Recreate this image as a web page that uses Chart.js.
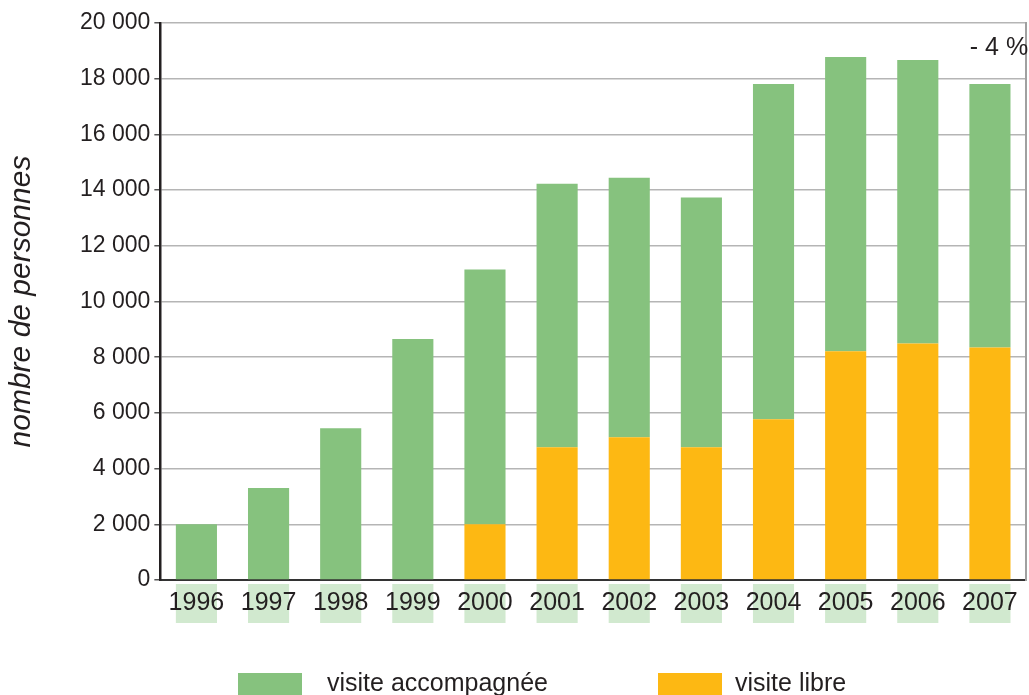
<!DOCTYPE html>
<html>
<head>
<meta charset="utf-8">
<script src="https://cdn.jsdelivr.net/npm/chart.js@4"></script>
<style>
  html, body { margin: 0; padding: 0; background: #ffffff; }
  #wrap { width: 1029px; height: 695px; }
</style>
</head>
<body>
<div id="wrap"><canvas id="chart" width="1029" height="695"></canvas></div>
<script>
const annees = ["1996", "1997", "1998", "1999", "2000", "2001", "2002", "2003", "2004", "2005", "2006", "2007"];
// visite libre (bas des barres)
const visiteLibre = [0, 0, 0, 0, 2000, 4770, 5130, 4770, 5770, 8210, 8490, 8350];
// visite accompagnée (empilée au-dessus)
const visiteAccompagnee = [2000, 3300, 5450, 8650, 9150, 9460, 9310, 8960, 12040, 10570, 10180, 9460];
const noteEvolution = "- 4 %";

const VERT = "#86c27e";
const ORANGE = "#fdb813";
const VERT_PALE = "#d1e9cf";
const POLICE = "'Liberation Sans', Arial, sans-serif";

function formatMilliers(v) {
  return String(v).replace(/\B(?=(\d{3})+(?!\d))/g, " ");
}

// bandes vert pâle sous les barres, derrière les années
const bandes = {
  id: "bandes",
  beforeDraw(chart) {
    const ctx = chart.ctx;
    const meta = chart.getDatasetMeta(1);
    const bas = chart.chartArea.bottom;
    ctx.save();
    ctx.fillStyle = VERT_PALE;
    meta.data.forEach(bar => {
      ctx.fillRect(bar.x - bar.width / 2, bas + 4, bar.width, 39);
    });
    ctx.restore();
  }
};

// légende + note "- 4 %"
const extras = {
  id: "extras",
  afterDraw(chart) {
    const ctx = chart.ctx;
    const x = chart.scales.x;
    const y = chart.scales.y;
    ctx.save();
    ctx.fillStyle = "#231f20";
    ctx.font = "25px " + POLICE;
    ctx.textBaseline = "middle";
    ctx.textAlign = "center";
    ctx.fillText(noteEvolution, x.getPixelForValue(annees.length - 1) + 9, y.getPixelForValue(19100));

    const ds = chart.data.datasets;
    const items = [
      { ds: ds[1], box: 238, txt: 327 },
      { ds: ds[0], box: 658, txt: 735 }
    ];
    ctx.textAlign = "left";
    ctx.textBaseline = "alphabetic";
    items.forEach(it => {
      ctx.fillStyle = it.ds.backgroundColor;
      ctx.fillRect(it.box, 673, 64, 24);
      ctx.fillStyle = "#231f20";
      ctx.fillText(it.ds.label, it.txt, 691);
    });
    ctx.restore();
  }
};

const ctx = document.getElementById("chart").getContext("2d");
new Chart(ctx, {
  type: "bar",
  data: {
    labels: annees,
    datasets: [
      {
        label: "visite libre",
        data: visiteLibre,
        backgroundColor: ORANGE,
        borderWidth: 0
      },
      {
        label: "visite accompagnée",
        data: visiteAccompagnee,
        backgroundColor: VERT,
        borderWidth: 0
      }
    ]
  },
  options: {
    responsive: false,
    animation: false,
    layout: { padding: { top: 23, right: 3, bottom: 69, left: 4 } },
    plugins: {
      legend: { display: false },
      tooltip: { enabled: false }
    },
    datasets: {
      bar: { categoryPercentage: 1, barPercentage: 0.57 }
    },
    scales: {
      x: {
        stacked: true,
        grid: { display: false, drawTicks: false },
        border: { display: true, color: "#333333", width: 2 },
        ticks: {
          color: "#231f20",
          font: { family: POLICE, size: 25 },
          padding: 8,
          maxRotation: 0
        }
      },
      y: {
        stacked: true,
        min: 0,
        max: 20000,
        grid: { color: "#b5b5b5", lineWidth: 1.5, tickLength: 6, tickColor: "#555555" },
        border: { display: true, color: "#231f20", width: 2.5 },
        ticks: {
          stepSize: 2000,
          color: "#231f20",
          font: { family: POLICE, size: 23 },
          padding: 4,
          callback: v => formatMilliers(v)
        },
        title: {
          display: true,
          text: "nombre de personnes",
          color: "#231f20",
          font: { family: POLICE, size: 30, style: "italic" },
          padding: { top: 0, bottom: 36 }
        }
      },
      y2: {
        position: "right",
        min: 0,
        max: 20000,
        grid: { display: false, drawTicks: false },
        ticks: { display: false },
        border: { display: true, color: "#a0a0a0", width: 2 }
      }
    }
  },
  plugins: [bandes, extras]
});
</script>
</body>
</html>
